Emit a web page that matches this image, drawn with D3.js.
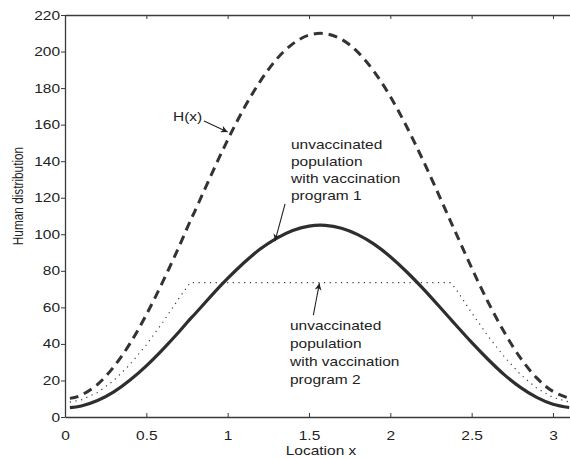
<!DOCTYPE html>
<html>
<head>
<meta charset="utf-8">
<script src="https://cdn.jsdelivr.net/npm/d3@7"></script>
<style>
  html, body { margin: 0; padding: 0; background: #fff; }
  svg { display: block; }
  text { font-family: "Liberation Sans", Arial, Helvetica, sans-serif; fill: #222; }
</style>
</head>
<body>
<svg id="chart" width="570" height="459"></svg>
<script>
// Location along the domain
const locations = [0.03, 0.1, 0.2, 0.3, 0.4, 0.5, 0.6, 0.7, 0.77, 0.8, 0.9, 1.0, 1.1, 1.2, 1.3, 1.4, 1.5,
  1.6, 1.7, 1.8, 1.9, 2.0, 2.1, 2.2, 2.3, 2.37, 2.4, 2.5, 2.6, 2.7, 2.8, 2.9, 3.0, 3.1];
// Total human distribution H(x)
const humanTotal = [10.2, 12, 17.9, 27.5, 40.3, 56, 73.8, 93, 107.3, 112.9, 132.7, 151.6, 168.9, 183.7, 195.7,
  204.2, 209, 209.8, 206.7, 199.7, 189.1, 175.4, 159, 140.7, 121.2, 107.2, 101.3, 81.6, 63.1, 46.5, 32.3, 21.4, 14, 10.3];
// Unvaccinated population, vaccination program 1
const unvaccProgram1 = [5.1, 6, 9, 13.7, 20.2, 28, 36.9, 46.5, 53.7, 56.5, 66.4, 75.8, 84.4, 91.9, 97.8,
  102.1, 104.5, 104.9, 103.3, 99.8, 94.6, 87.7, 79.5, 70.4, 60.6, 53.6, 50.6, 40.8, 31.6, 23.2, 16.2, 10.7, 7, 5.2];
// Unvaccinated population, vaccination program 2
const unvaccProgram2 = [8.1, 9.4, 13.4, 20, 28.8, 39.5, 51.7, 64.9, 73.5, 73.5, 73.5, 73.5, 73.5, 73.5, 73.5,
  73.5, 73.5, 73.5, 73.5, 73.5, 73.5, 73.5, 73.5, 73.5, 73.5, 73.5, 70.5, 57.1, 44.4, 33, 23.3, 15.8, 10.7, 8.2];

const xTicks = [0, 0.5, 1, 1.5, 2, 2.5, 3];
const yTicks = [0, 20, 40, 60, 80, 100, 120, 140, 160, 180, 200, 220];

(function draw() {
  const svg = d3.select("#chart");
  const W = 570, H = 459;
  const mLeft = 65, mRight = 576, mTop = 15, mBottom = 417;
  const SX = 1.24; // horizontal text stretch

  svg.append("rect").attr("width", W).attr("height", H).attr("fill", "#fff");

  const x = d3.scaleLinear().domain([0, Math.PI]).range([mLeft, mRight]);
  const y = d3.scaleLinear().domain([0, 220]).range([mBottom, mTop]);

  const axisColor = "#3a3a3a";

  // Bottom axis (ticks point inward)
  const gx = svg.append("g").attr("transform", `translate(0,${mBottom})`)
    .call(d3.axisBottom(x).tickValues(xTicks).tickSizeInner(-4).tickSizeOuter(0).tickPadding(14)
      .tickFormat(d3.format("~g")));
  gx.select(".domain").attr("stroke", axisColor).attr("stroke-width", 1.3);
  gx.selectAll(".tick line").attr("stroke", axisColor);
  gx.selectAll(".tick text").attr("font-size", 12.5).attr("fill", "#222")
    .attr("transform", `scale(${SX},1)`);

  // Top frame (ticks inward, no labels)
  const gt = svg.append("g").attr("transform", `translate(0,${mTop})`)
    .call(d3.axisTop(x).tickValues(xTicks).tickSizeInner(-4).tickSizeOuter(0).tickFormat(""));
  gt.select(".domain").attr("stroke", axisColor).attr("stroke-width", 1.3);
  gt.selectAll(".tick line").attr("stroke", axisColor);

  // Left axis
  const gy = svg.append("g").attr("transform", `translate(${mLeft},0)`)
    .call(d3.axisLeft(y).tickValues(yTicks).tickSizeInner(4).tickSizeOuter(0).tickPadding(1));
  gy.select(".domain").attr("stroke", axisColor).attr("stroke-width", 1.3);
  gy.selectAll(".tick line").attr("stroke", axisColor);
  gy.selectAll(".tick text").attr("font-size", 12.5).attr("fill", "#222")
    .attr("x", -5 / SX)
    .attr("transform", `scale(${SX},1)`);

  // Axis titles
  svg.append("text")
    .attr("transform", `translate(321,455) scale(${SX},1)`)
    .attr("text-anchor", "middle").attr("font-size", 12.5)
    .text("Location x");
  svg.append("text")
    .attr("transform", `translate(23,196) scale(${SX},1) rotate(-90)`)
    .attr("text-anchor", "middle").attr("font-size", 11.8)
    .text("Human distribution");

  // Curves
  const series = locations.map((loc, i) => ({
    x: loc, h: humanTotal[i], p1: unvaccProgram1[i], p2: unvaccProgram2[i]
  }));

  const plot = svg.append("g");

  plot.append("path").datum(series)
    .attr("fill", "none").attr("stroke", "#3a3a3a").attr("stroke-width", 1.2)
    .attr("stroke-dasharray", "1.2,4.5")
    .attr("d", d3.line().x(d => x(d.x)).y(d => y(d.p2)).curve(d3.curveLinear));

  plot.append("path").datum(series)
    .attr("fill", "none").attr("stroke", "#2e2e2e").attr("stroke-width", 3.2)
    .attr("d", d3.line().x(d => x(d.x)).y(d => y(d.p1)).curve(d3.curveNatural));

  plot.append("path").datum(series)
    .attr("fill", "none").attr("stroke", "#333").attr("stroke-width", 3)
    .attr("stroke-dasharray", "9,6")
    .attr("d", d3.line().x(d => x(d.x)).y(d => y(d.h)).curve(d3.curveNatural));

  // Arrowhead marker
  svg.append("defs").append("marker")
    .attr("id", "arrow").attr("viewBox", "0 0 10 10")
    .attr("refX", 10).attr("refY", 5)
    .attr("markerWidth", 10).attr("markerHeight", 7)
    .attr("markerUnits", "userSpaceOnUse")
    .attr("orient", "auto")
    .append("path").attr("d", "M0,0 L10,5 L0,10 L3,5 z").attr("fill", "#222");

  function arrow(x0, y0, x1, y1) {
    svg.append("line")
      .attr("x1", x(x0)).attr("y1", y(y0)).attr("x2", x(x1)).attr("y2", y(y1))
      .attr("stroke", "#222").attr("stroke-width", 1.1)
      .attr("marker-end", "url(#arrow)");
  }

  function label(lines, px, py, step) {
    lines.forEach((t, i) => {
      svg.append("text")
        .attr("transform", `translate(${px},${py + i * step}) scale(${SX},1)`)
        .attr("font-size", 12.5)
        .text(t);
    });
  }

  // H(x) annotation
  label(["H(x)"], 173, 121, 0);
  arrow(0.855, 162, 1.0, 156);

  // Program 1 annotation
  label(["unvaccinated", "population", "with vaccination", "program 1"], 291, 148.5, 17.3);
  arrow(1.353, 116.6, 1.291, 96.3);

  // Program 2 annotation
  label(["unvaccinated", "population", "with vaccination", "program 2"], 290, 330, 18);
  arrow(1.527, 55.8, 1.564, 73.2);
})();
</script>
</body>
</html>
